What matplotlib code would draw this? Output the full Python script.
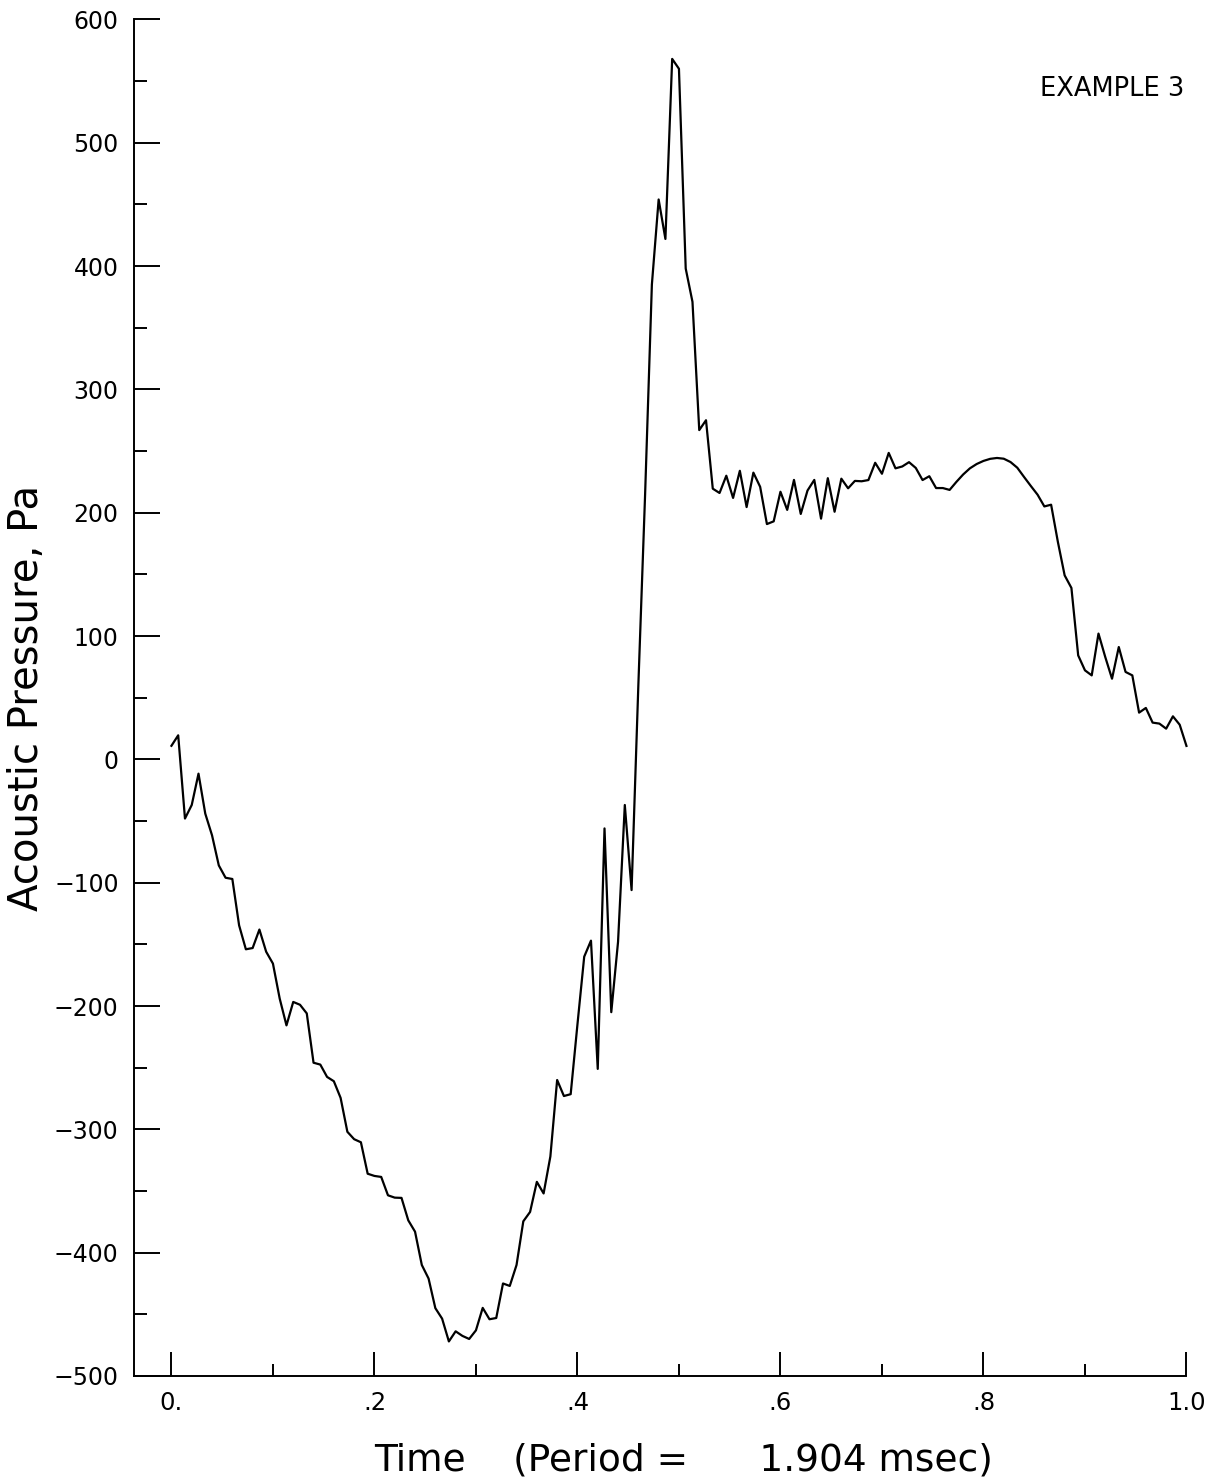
import numpy as np
import matplotlib
matplotlib.use("Agg")
import matplotlib.pyplot as plt
from matplotlib.ticker import MultipleLocator, FixedLocator

# one period of the signal, 151 samples evenly spaced over t = 0..1
n_samples = 151
time = np.arange(n_samples) / (n_samples - 1)

pressure = [
    11, 19.5, -48, -37, -11.6, -44, -61.6, -86, -96, -97,
    -134.6, -154, -153, -138, -156, -165.6, -194, -215.7, -196.7, -199,
    -206, -246, -247.5, -257.5, -261, -274.5, -302, -308, -310.5, -336,
    -337.8, -338.6, -353.5, -355.4, -355.6, -373.8, -383, -410, -421, -445,
    -453.5, -472, -463.8, -467.5, -470, -463, -444.8, -454, -453, -425,
    -427, -410, -374.6, -367, -342.6, -352, -322, -260, -273, -271.5,
    -215, -160, -147, -251, -56, -205, -148, -37, -106, 60,
    215, 385, 454, 422, 568, 560, 398, 371, 267, 275,
    219.5, 216, 230, 212, 234, 204.6, 232.5, 221, 190.8, 193,
    217, 202.3, 226.6, 199, 218, 226.6, 195.2, 228, 200.8, 227.6,
    219.8, 225.8, 225.5, 226.5, 240.5, 231.6, 248.5, 236, 237.5, 241,
    236.3, 226.5, 229.6, 220, 220, 218.5, 225, 231, 236, 239.5,
    242, 243.7, 244.4, 243.8, 241.1, 236.5, 229, 221.7, 214.6, 205.1,
    206.5, 176.3, 149.2, 139, 84.3, 72.2, 68.1, 102, 83, 65.4,
    91.1, 70.9, 68.1, 37.9, 41.7, 29.8, 29, 24.9, 34.9, 28.1,
    10.9,
]

x_ticks = [0.0, 0.2, 0.4, 0.6, 0.8, 1.0]
x_ticklabels = ["0.", ".2", ".4", ".6", ".8", "1.0"]
x_minor = [0.1, 0.3, 0.5, 0.7, 0.9]
y_ticks = list(range(-500, 601, 100))

fig = plt.figure(figsize=(12.18, 14.84), dpi=100)
ax = fig.add_axes([0.110, 0.0728, 0.8641, 0.9141])

ax.plot(time, pressure, color="black", lw=1.6, clip_on=False)

ax.set_xlim(-0.0369, 1.0)
ax.set_ylim(-500, 600)

ax.xaxis.set_major_locator(FixedLocator(x_ticks))
ax.set_xticklabels(x_ticklabels)
ax.xaxis.set_minor_locator(FixedLocator(x_minor))
ax.yaxis.set_major_locator(FixedLocator(y_ticks))
ax.set_yticklabels([str(v).replace("-", "\u2212") for v in y_ticks])
ax.yaxis.set_minor_locator(MultipleLocator(50))

for s in ["top", "right"]:
    ax.spines[s].set_visible(False)
for s in ["left", "bottom"]:
    ax.spines[s].set_linewidth(1.4)

ax.tick_params(axis="x", which="major", direction="in", length=17.5, width=1.4,
               pad=11, labelsize=17.5)
ax.tick_params(axis="x", which="minor", direction="in", length=9, width=1.4)
ax.tick_params(axis="y", which="major", direction="in", length=18.5, width=1.4,
               pad=11, labelsize=17)
ax.tick_params(axis="y", which="minor", direction="in", length=9.5, width=1.4)

ax.set_xlabel("Time    (Period =      1.904 msec)", fontsize=27)
ax.xaxis.label.set_va("center")
ax.xaxis.set_label_coords(0.5226, -0.062)
ax.set_ylabel("Acoustic Pressure, Pa", fontsize=29)
ax.yaxis.label.set_va("center")
ax.yaxis.set_label_coords(-0.1017, 0.5)

ax.text(0.9976, 0.9488, "EXAMPLE 3", transform=ax.transAxes, ha="right",
        va="center", fontsize=18.5)

fig.savefig("out.png", dpi=100)
